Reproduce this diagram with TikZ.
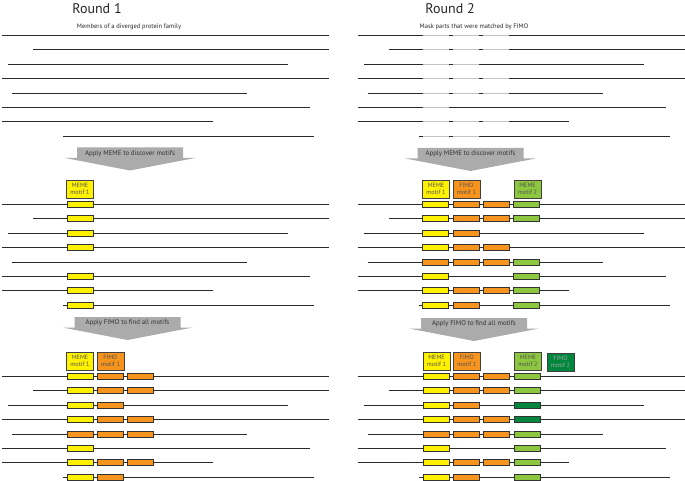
\documentclass[tikz,border=0pt]{standalone}
\usepackage{fontspec}
\setmainfont{PT Sans}
\usepackage{tikz}
\usetikzlibrary{positioning}
\definecolor{memeyel}{HTML}{FFF200}
\definecolor{fimoorg}{HTML}{F7941D}
\definecolor{memegrn}{HTML}{8DC63F}
\definecolor{fimogrn}{HTML}{00873D}
\definecolor{arrowgray}{HTML}{ABABAB}
\definecolor{maskgray}{HTML}{C2C2C2}
\definecolor{seqline}{HTML}{2B2B2B}

\tikzset{
  seq/.style={draw=seqline, line width=1pt},
  mask/.style={draw=maskgray, line width=1pt},
  motif/.style={draw=black!80, line width=0.8pt, minimum width=26pt,
    minimum height=6pt, inner sep=0pt, outer sep=0pt},
  motiflabel/.style={draw=black!75, line width=0.8pt, minimum width=27pt,
    minimum height=18pt, inner sep=0pt, align=center,
    font=\fontsize{6.2}{7.2}\selectfont, text=black!68},
  bigarrow/.style={fill=arrowgray},
}

\begin{document}
\begin{tikzpicture}[x=1pt, y=-1pt]
        \useasboundingbox (0,0) rectangle (685,481);

        % ── TITLES ─────────────────────────────────
        \node[font=\fontsize{14}{16}\selectfont, text=black!85] (round1) at (97,9) {Round 1};
        \node[font=\fontsize{14}{16}\selectfont, text=black!85] (round2) at (450,9) {Round 2};
        \node[font=\fontsize{6.5}{8}\selectfont, text=black!85] (members) at (129,27)
          {Members of a diverged protein family};
        \node[font=\fontsize{6.5}{8}\selectfont, text=black!85] (maskparts) at (474,27)
          {Mask parts that were matched by FIMO};

        % ── SEQUENCES (both rounds, three stages) ──
        \foreach \base in {35.5, 204.5, 376.5} {
          \foreach \r/\xa/\xb in {1/2/329, 2/33/329, 3/8/288, 4/2/329,
                                  5/12/247, 6/2/310, 7/2/213, 8/63/314} {
            \pgfmathsetmacro\y{\base+round(14.4*(\r-1))}
            \draw[seq] (\xa,\y) -- (\xb,\y);
            \draw[seq] (\xa+355.5,\y) -- (\xb+355.5,\y);
          }
        }

        % Masked parts, round 2
        \begin{scope}[xshift=355.5pt]
        \foreach \r/\c in {1/0,1/1,1/2, 2/0,2/1,2/2, 3/0,3/1, 4/0,4/1,4/2,
                           5/0,5/1,5/2, 6/0, 7/0,7/1,7/2, 8/0,8/1} {
          \pgfmathsetmacro\y{35.5+round(14.4*(\r-1))}
          \draw[mask] (67+30.4*\c,\y) -- ++(26,0);
        }
        \end{scope}

        % ── ARROWS ─────────────────────────────────
        \foreach \cx/\ty/\txt/\nm in {130/147.5/{Apply MEME to discover motifs}/meme1,
                                      470.5/148/{Apply MEME to discover motifs}/meme2,
                                      127.5/317/{Apply FIMO to find all motifs}/fimo1,
                                      474/318/{Apply FIMO to find all motifs}/fimo2} {
          \fill[bigarrow] (\cx-53,\ty) -- (\cx+53,\ty) -- (\cx+53,\ty+10.5)
            -- (\cx+65,\ty+10.5) -- (\cx,\ty+23) -- (\cx-65,\ty+10.5)
            -- (\cx-53,\ty+10.5) -- cycle;
          \node[font=\fontsize{6.8}{8}\selectfont, text=black!80] (\nm) at (\cx,\ty+6) {\txt};
        }

        % ── ROUND 1 MOTIFS ─────────────────────────
        \foreach \r in {1,2,3,4,6,7,8} {
          \pgfmathsetmacro\y{204.5+round(14.4*(\r-1))}
          \node[motif, fill=memeyel] (mid1-\r) at (80,\y) {};
        }
        \foreach \r/\c/\col in {1/0/memeyel,1/1/fimoorg,1/2/fimoorg,
                                2/0/memeyel,2/1/fimoorg,2/2/fimoorg,
                                3/0/memeyel,3/1/fimoorg,
                                4/0/memeyel,4/1/fimoorg,4/2/fimoorg,
                                5/0/fimoorg,5/1/fimoorg,5/2/fimoorg,
                                6/0/memeyel,
                                7/0/memeyel,7/1/fimoorg,7/2/fimoorg,
                                8/0/memeyel,8/1/fimoorg} {
          \pgfmathsetmacro\y{376.5+round(14.4*(\r-1))}
          \node[motif, fill=\col] (bot1-\r-\c) at (80+30.4*\c,\y) {};
        }
        \node[motiflabel, fill=memeyel] (lblmid1) at (80,189) {MEME\\motif 1};
        \node[motiflabel, fill=memeyel] (lblbot1a) at (80,361) {MEME\\motif 1};
        \node[motiflabel, fill=fimoorg] (lblbot1b) at (110.4,361) {FIMO\\motif 1};

        % ── ROUND 2 MOTIFS ─────────────────────────
        \begin{scope}[xshift=355.5pt]
        \foreach \r/\c/\col in {1/0/memeyel,1/1/fimoorg,1/2/fimoorg,1/3/memegrn,
                                2/0/memeyel,2/1/fimoorg,2/2/fimoorg,2/3/memegrn,
                                3/0/memeyel,3/1/fimoorg,
                                4/0/memeyel,4/1/fimoorg,4/2/fimoorg,
                                5/0/fimoorg,5/1/fimoorg,5/2/fimoorg,5/3/memegrn,
                                6/0/memeyel,6/3/memegrn,
                                7/0/memeyel,7/1/fimoorg,7/2/fimoorg,7/3/memegrn,
                                8/0/memeyel,8/1/fimoorg,8/3/memegrn} {
          \pgfmathsetmacro\y{204.5+round(14.4*(\r-1))}
          \node[motif, fill=\col] (mid2-\r-\c) at (80+30.4*\c,\y) {};
        }
        \foreach \r/\c/\col in {1/0/memeyel,1/1/fimoorg,1/2/fimoorg,1/3/memegrn,
                                2/0/memeyel,2/1/fimoorg,2/2/fimoorg,2/3/memegrn,
                                3/0/memeyel,3/1/fimoorg,3/3/fimogrn,
                                4/0/memeyel,4/1/fimoorg,4/2/fimoorg,4/3/fimogrn,
                                5/0/fimoorg,5/1/fimoorg,5/2/fimoorg,5/3/memegrn,
                                6/0/memeyel,6/3/memegrn,
                                7/0/memeyel,7/1/fimoorg,7/2/fimoorg,7/3/memegrn,
                                8/0/memeyel,8/1/fimoorg,8/3/memegrn} {
          \pgfmathsetmacro\y{376.5+round(14.4*(\r-1))}
          \node[motif, fill=\col] (bot2-\r-\c) at (80.5+30.4*\c,\y) {};
        }
        \node[motiflabel, fill=memeyel] (lblmid2a) at (80.5,189) {MEME\\motif 1};
        \node[motiflabel, fill=fimoorg] (lblmid2b) at (110.9,189) {FIMO\\motif 1};
        \node[motiflabel, fill=memegrn] (lblmid2c) at (172,189) {MEME\\motif 2};
        \node[motiflabel, fill=memeyel] (lblbot2a) at (81,361) {MEME\\motif 1};
        \node[motiflabel, fill=fimoorg] (lblbot2b) at (111.4,361) {FIMO\\motif 1};
        \node[motiflabel, fill=memegrn] (lblbot2c) at (172.5,361) {MEME\\motif 2};
        \node[motiflabel, fill=fimogrn, text=black!35] (lblbot2d) at (205,362) {FIMO\\motif 2};
        \end{scope}
      \end{tikzpicture}
\end{document}
